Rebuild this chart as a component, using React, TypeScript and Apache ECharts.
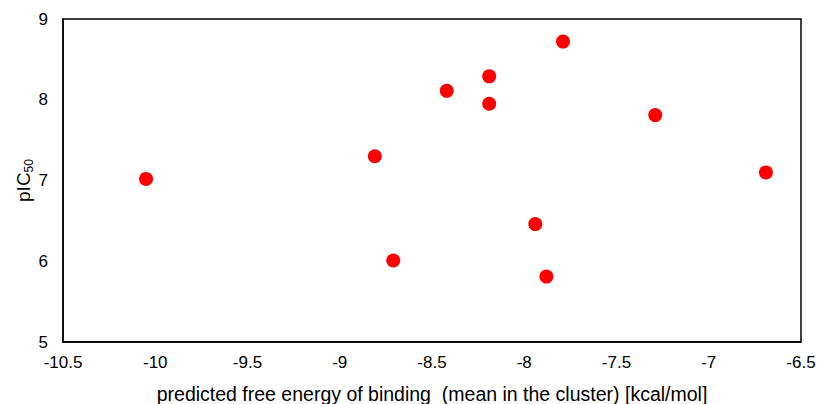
import React, { useEffect, useRef } from "react";
import * as echarts from "echarts";

const energy = [-10.05, -8.81, -8.71, -8.42, -8.19, -8.19, -7.79, -7.94, -7.88, -7.29, -6.69];
const pIC50 = [7.02, 7.3, 6.01, 8.11, 8.29, 7.95, 8.72, 6.46, 5.81, 7.81, 7.1];

const xTicks = { min: -10.5, max: -6.5, interval: 0.5 };
const yTicks = { min: 5, max: 9, interval: 1 };

export default function App() {
  const ref = useRef<HTMLDivElement>(null);
  useEffect(() => {
    const chart = echarts.init(ref.current!, null, { renderer: "svg" });
    const font = "'Liberation Sans', Arial, sans-serif";
    chart.setOption({
      animation: false,
      backgroundColor: "#fff",
      grid: {
        left: 63,
        top: 19,
        right: 21,
        bottom: 62,
        show: true,
        borderColor: "#000",
        borderWidth: 1.5,
        outerBoundsMode: "none",
        containLabel: false,
      },
      xAxis: {
        type: "value",
        min: xTicks.min,
        max: xTicks.max,
        interval: xTicks.interval,
        splitLine: { show: false },
        axisTick: { show: false },
        axisLine: { show: true, onZero: false, lineStyle: { color: "#000", width: 1.5 } },
        axisLabel: { color: "#000", fontSize: 17, fontFamily: font, margin: 12 },
        name: "predicted free energy of binding  (mean in the cluster) [kcal/mol]",
        nameLocation: "middle",
        nameGap: 42,
        nameMoveOverlap: false,
        nameTextStyle: { color: "#000", fontSize: 19.5, fontFamily: font },
      },
      yAxis: {
        type: "value",
        min: yTicks.min,
        max: yTicks.max,
        interval: yTicks.interval,
        splitLine: { show: false },
        axisTick: { show: false },
        axisLine: { show: true, onZero: false, lineStyle: { color: "#000", width: 1.5 } },
        axisLabel: { color: "#000", fontSize: 17, fontFamily: font, margin: 15 },
        name: "{m|pIC}{s|50}",
        nameLocation: "middle",
        nameGap: 30,
        nameMoveOverlap: false,
        nameTextStyle: {
          color: "#000",
          fontFamily: font,
          rich: {
            m: { fontSize: 19, fontFamily: font, color: "#000", verticalAlign: "bottom", lineHeight: 20 },
            s: { fontSize: 12, fontFamily: font, color: "#000", verticalAlign: "bottom", lineHeight: 12, padding: [0, 0, -2, 0] },
          },
        },
      },
      series: [
        {
          type: "scatter",
          symbol: "circle",
          symbolSize: 14,
          itemStyle: { color: "#ff0000", opacity: 1 },
          data: energy.map((x, i) => [x, pIC50[i]]),
        },
      ],
    });
    return () => chart.dispose();
  }, []);
  return <div ref={ref} style={{ width: 822, height: 404, position: "absolute", left: 0, top: 0 }} />;
}
